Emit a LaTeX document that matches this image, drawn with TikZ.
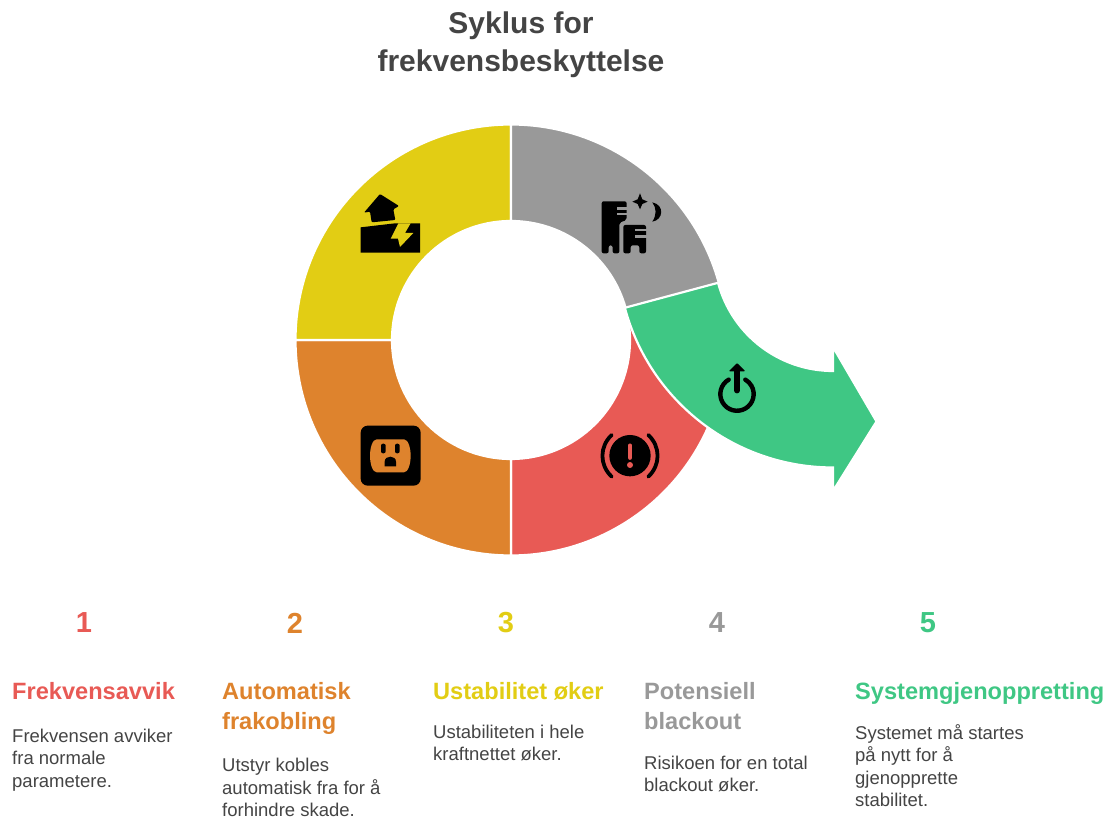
\documentclass[tikz,border=0pt]{standalone}
\usepackage{fontspec}
\setmainfont{Liberation Sans}
\definecolor{segred}{HTML}{E85A55}
\definecolor{segorange}{HTML}{DE832D}
\definecolor{segyellow}{HTML}{E2CD14}
\definecolor{seggray}{HTML}{999999}
\definecolor{seggreen}{HTML}{3FC784}
\definecolor{titlegray}{HTML}{444444}
\tikzset{
  segment/.style={draw=white,line width=2.2pt},
  titletext/.style={font=\fontsize{30}{38}\selectfont\bfseries,text=titlegray,align=center,inner sep=0pt},
  numtext/.style={font=\fontsize{29}{32}\selectfont\bfseries,inner sep=0pt},
  headtext/.style={font=\fontsize{23.6}{30}\selectfont\bfseries,anchor=north west,align=left,inner sep=0pt},
  bodytext/.style={font=\fontsize{18.5}{22.6}\selectfont,text=titlegray,anchor=north west,align=left,inner sep=0pt},
  iconscope/.style={x=0.33333pt,y=-0.33333pt},
}
\begin{document}
\begin{tikzpicture}[x=1pt,y=1pt]
\useasboundingbox (0,0) rectangle (1113,819);
% Ring segments
\begin{scope}[shift={(511pt,479pt)}]
\filldraw[segment,fill=segred] (270:215.5pt) arc (270:375:215.5pt) -- (15:119pt) arc (375:270:119pt) -- cycle;
\filldraw[segment,fill=segorange] (180:215.5pt) arc (180:270:215.5pt) -- (270:119pt) arc (270:180:119pt) -- cycle;
\filldraw[segment,fill=segyellow] (90:215.5pt) arc (90:180:215.5pt) -- (180:119pt) arc (180:90:119pt) -- cycle;
\filldraw[segment,fill=seggray] (15:215.5pt) arc (15:90:215.5pt) -- (90:119pt) arc (90:15:119pt) -- cycle;
\end{scope}
% Arrow segment
\begin{scope}[shift={(833pt,567pt)}]
\filldraw[segment,fill=seggreen] (195:215.5pt) arc (195:270:215.5pt) -- (270:239pt) -- (284.4:175pt) -- (270:95pt) -- (270:119pt) arc (270:195:119pt) -- cycle;
\end{scope}
% Icon: house on cracked ground
\begin{scope}[iconscope,shift={(340pt,649pt)}]
\fill[black,rounded corners=1pt] (120,72) -- (177,108) -- (160,118) -- (166,150) -- (95,157) -- (90,125) -- (72,128) -- cycle;
\fill[black] (62,172) -- (165,160) -- (240,160) -- (240,248) -- (62,248) -- cycle;
\fill[segyellow] (175,160) -- (152,206) -- (174,206) -- (180,231) -- (220,189) -- (195,189) -- (212,160) -- cycle;
\end{scope}
% Icon: building with star and moon
\begin{scope}[iconscope,shift={(340pt,649pt)}]
\fill[black,rounded corners=2pt] (785,250) -- (785,94) -- (860,94) -- (860,150) -- (838,158) -- (838,250) -- (818,250) -- (818,226) -- (806,226) -- (806,250) -- cycle;
\fill[black,rounded corners=2pt] (850,250) -- (850,165) -- (918,165) -- (918,250) -- (898,250) -- (898,226) -- (872,226) -- (872,250) -- cycle;
\fill[seggray] (830,112) rectangle (862,119);
\fill[seggray] (830,128) rectangle (862,134);
\fill[seggray] (885,178) rectangle (920,184);
\fill[seggray] (885,196) rectangle (920,203);
\fill[black] (900,70) -- (907,88) -- (923,95) -- (907,102) -- (900,118) -- (893,102) -- (877,95) -- (893,88) -- cycle;
\fill[black] (937,97) .. controls (975,105) and (970,150) .. (937,155) .. controls (950,135) and (950,115) .. (937,97) -- cycle;
\end{scope}
% Icon: outlet
\begin{scope}[iconscope,shift={(340pt,469pt)}]
\fill[black,rounded corners=7pt] (62,227) rectangle (242,407);
\fill[segorange] (110,268) -- (192,268) .. controls (205,268) and (212,295) .. (212,317) .. controls (212,340) and (205,367) .. (192,367) -- (110,367) .. controls (97,367) and (90,340) .. (90,317) .. controls (90,295) and (97,268) .. (110,268) -- cycle;
\fill[black,rounded corners=2pt] (123,281) rectangle (137,310);
\fill[black,rounded corners=2pt] (165,281) rectangle (179,310);
\fill[black] (134,349) -- (134,335) .. controls (134,315) and (168,315) .. (168,335) -- (168,349) -- cycle;
\end{scope}
% Icon: alert
\begin{scope}[iconscope,shift={(340pt,469pt)}]
\fill[black] (870,317) circle (62);
\draw[segred,line width=4.4pt,line cap=round] (870,287) -- (870,323);
\fill[segred] (870,345) circle (9);
\draw[black,line width=3.8pt,line cap=round] (815,255) .. controls (778,290) and (778,345) .. (815,380);
\draw[black,line width=3.8pt,line cap=round] (925,255) .. controls (962,290) and (962,345) .. (925,380);
\end{scope}
% Icon: power with arrow
\begin{scope}[iconscope,shift={(600pt,549pt)}]
\draw[black,line width=4.4pt,line cap=round] (386,329) arc (120:420:16.67pt);
\draw[black,line width=5.5pt,line cap=round] (411,362) -- (411,305);
\fill[black,rounded corners=1pt] (411,279) -- (436,304) -- (386,304) -- cycle;
\end{scope}
% Title
\node[titletext] (title) at (521,774) {Syklus for\\frekvensbeskyttelse};
% Numbers
\node[numtext,text=segred] (num1) at (84,196) {1};
\node[numtext,text=segorange] (num2) at (295,195.5) {2};
\node[numtext,text=segyellow] (num3) at (506,196) {3};
\node[numtext,text=seggray] (num4) at (717,196) {4};
\node[numtext,text=seggreen] (num5) at (928,196) {5};
% Headings
\node[headtext,text=segred] (head1) at (12,137) {Frekvensavvik};
\node[headtext,text=segorange] (head2) at (222,137) {Automatisk\\frakobling};
\node[headtext,text=segyellow] (head3) at (433,137) {Ustabilitet øker};
\node[headtext,text=seggray] (head4) at (644,137) {Potensiell\\blackout};
\node[headtext,text=seggreen] (head5) at (855,137) {Systemgjenoppretting};
% Descriptions
\node[bodytext] (body1) at (12,90.5) {Frekvensen avviker\\fra normale\\parametere.};
\node[bodytext] (body2) at (222,61) {Utstyr kobles\\automatisk fra for å\\forhindre skade.};
\node[bodytext] (body3) at (433,94.5) {Ustabiliteten i hele\\kraftnettet øker.};
\node[bodytext] (body4) at (644,63.5) {Risikoen for en total\\blackout øker.};
\node[bodytext] (body5) at (855,95) {Systemet må startes\\på nytt for å\\gjenopprette\\stabilitet.};
\end{tikzpicture}
\end{document}
